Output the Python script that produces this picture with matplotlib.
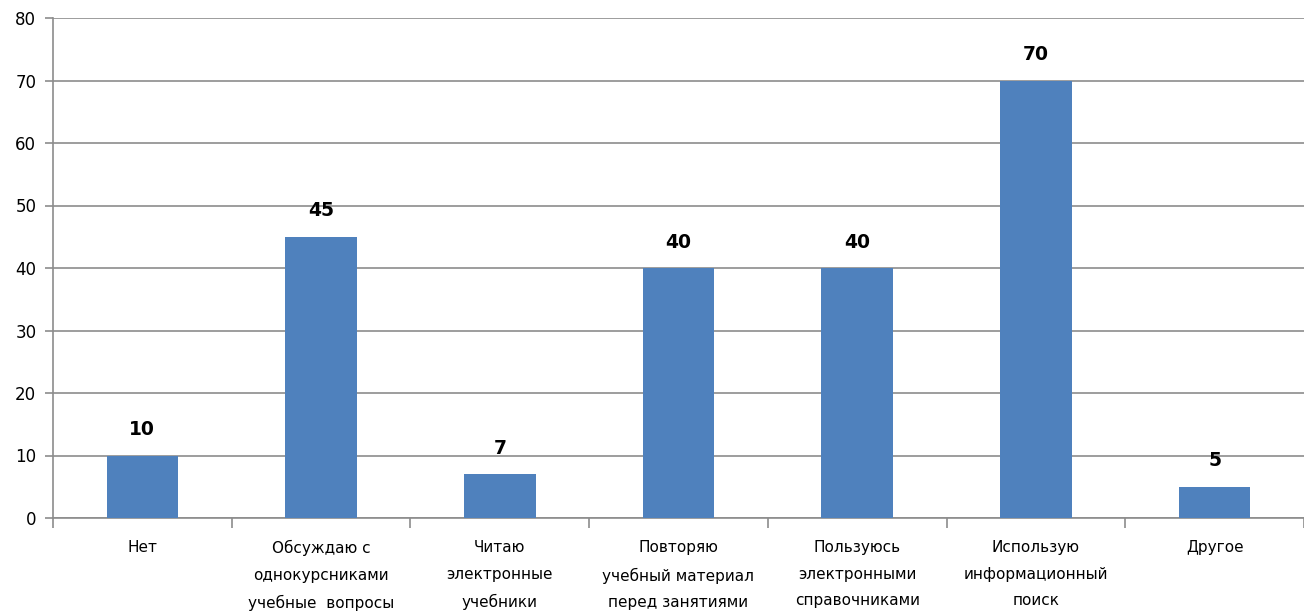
import matplotlib.pyplot as plt
import numpy as np

categories = ["Нет",
              "Обсуждаю с\nоднокурсниками\nучебные  вопросы",
              "Читаю\nэлектронные\nучебники",
              "Повторяю\nучебный материал\nперед занятиями",
              "Пользуюсь\nэлектронными\nсправочниками",
              "Использую\nинформационный\nпоиск",
              "Другое"]
values = [10, 45, 7, 40, 40, 70, 5]
y_ticks = [0, 10, 20, 30, 40, 50, 60, 70, 80]

grid_color = "#8c8c8c"
bar_color = "#4F81BD"

fig = plt.figure(figsize=(13.04, 6.11), dpi=100)
ax = fig.add_axes([53 / 1304, 93 / 611, 1 - 53 / 1304, 500 / 611])

x = np.arange(len(categories))
bars = ax.bar(x, values, width=0.4, color=bar_color, zorder=3)

for b, v in zip(bars, values):
    ax.text(b.get_x() + b.get_width() / 2, v + 2.6, str(v), ha="center",
            va="bottom", fontsize=13.5, fontweight="bold", color="black")

ax.set_ylim(0, 80)
ax.set_xlim(-0.5, 6.45)
ax.set_yticks(y_ticks)
ax.yaxis.grid(True, color=grid_color, linewidth=1.2, zorder=0)
ax.tick_params(axis="y", length=6, width=1.2, color=grid_color,
               labelsize=12, pad=6)

# category labels at centers, tick marks between categories
ax.set_xticks(x)
ax.set_xticklabels(categories, fontsize=11, linespacing=1.95)
ax.tick_params(axis="x", length=0, pad=16)
ax.set_xticks(np.arange(-0.5, 7, 1), minor=True)
ax.tick_params(axis="x", which="minor", length=7, width=1.2, color=grid_color)

for s in ["top", "right"]:
    ax.spines[s].set_visible(False)
for s in ["left", "bottom"]:
    ax.spines[s].set_color(grid_color)
    ax.spines[s].set_linewidth(1.2)

fig.savefig("out.png", dpi=100)
